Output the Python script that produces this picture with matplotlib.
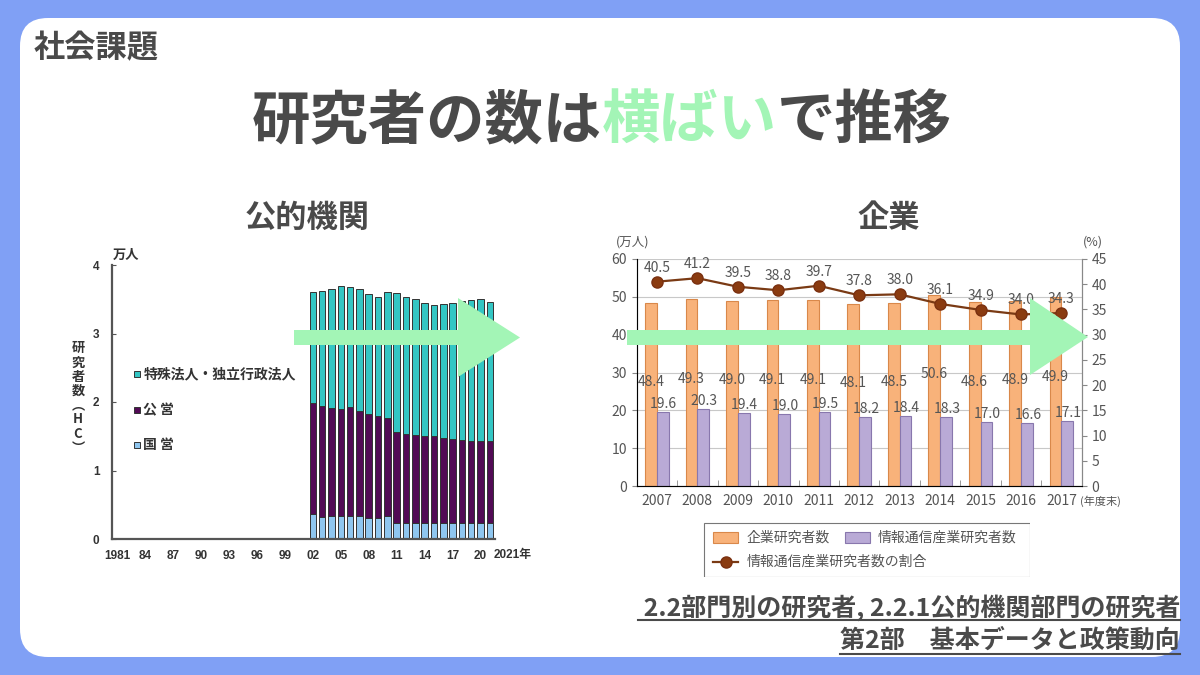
import matplotlib
matplotlib.use("Agg")
import matplotlib.pyplot as plt
from matplotlib.patches import FancyBboxPatch, Polygon, Rectangle
import numpy as np

plt.rcParams["font.family"] = ["Noto Sans CJK JP", "DejaVu Sans"]

# 公的機関 (万人)
years_pub = list(range(2002, 2022))
kokuei = [0.36, 0.32, 0.33, 0.33, 0.33, 0.33, 0.30, 0.30, 0.34, 0.24,
          0.24, 0.24, 0.24, 0.24, 0.24, 0.24, 0.24, 0.24, 0.24, 0.24]
koei = [1.63, 1.62, 1.58, 1.57, 1.59, 1.54, 1.52, 1.49, 1.43, 1.32,
        1.30, 1.28, 1.26, 1.26, 1.24, 1.22, 1.21, 1.19, 1.19, 1.19]
tokushu = [1.62, 1.68, 1.74, 1.79, 1.76, 1.78, 1.76, 1.74, 1.84, 2.03,
           2.00, 1.98, 1.94, 1.92, 1.95, 1.98, 2.02, 2.06, 2.07, 2.03]
pub_ticks = [1981, 1984, 1987, 1990, 1993, 1996, 1999, 2002, 2005, 2008,
             2011, 2014, 2017, 2020]
pub_ticklabels = ["1981", "84", "87", "90", "93", "96", "99", "02", "05",
                  "08", "11", "14", "17", "20"]
pub_legend = ["特殊法人・独立行政法人", "公 営", "国 営"]

# 企業
years_corp = ["2007", "2008", "2009", "2010", "2011", "2012", "2013",
              "2014", "2015", "2016", "2017"]
corp = [48.4, 49.3, 49.0, 49.1, 49.1, 48.1, 48.5, 50.6, 48.6, 48.9, 49.9]
ict = [19.6, 20.3, 19.4, 19.0, 19.5, 18.2, 18.4, 18.3, 17.0, 16.6, 17.1]
ratio = [40.5, 41.2, 39.5, 38.8, 39.7, 37.8, 38.0, 36.1, 34.9, 34.0, 34.3]

GRAY = "#4a4a4a"
GREEN = "#a3f5b6"
BLUE = "#80a0f5"
ARIAL = ["Liberation Sans", "Noto Sans CJK JP"]

W, H = 1200, 675
fig = plt.figure(figsize=(12, 6.75), dpi=100)
fig.patch.set_facecolor(BLUE)


def ax_px(x0, y0, x1, y1, **kw):
    return fig.add_axes([x0 / W, 1 - y1 / H, (x1 - x0) / W, (y1 - y0) / H], **kw)


# slide background
bg = ax_px(0, 0, W, H, zorder=0)
bg.set_xlim(0, W)
bg.set_ylim(H, 0)
bg.axis("off")
bg.add_patch(FancyBboxPatch((20, 18), 1160, 639,
                            boxstyle="round,pad=0,rounding_size=28",
                            fc="white", ec="none"))
r = fig.canvas.get_renderer()

bg.text(34, 48, "社会課題", fontsize=22.5, weight="bold", color=GRAY, va="center")

x = 252
for s, c in [("研究者の数は", GRAY), ("横ばい", GREEN), ("で推移", GRAY)]:
    t = bg.text(x, 121, s, fontsize=42, weight="bold", color=c,
                va="center", ha="left")
    x += t.get_window_extent(renderer=r).width

bg.text(307, 218, "公的機関", fontsize=22.5, weight="bold", color=GRAY,
        ha="center", va="center")
bg.text(889, 218, "企業", fontsize=22.5, weight="bold", color=GRAY,
        ha="center", va="center")

for s, yy, uy in [(" 2.2部門別の研究者, 2.2.1公的機関部門の研究者", 608, 620),
                  ("第2部　基本データと政策動向", 641, 654)]:
    t = bg.text(1180, yy, s, fontsize=18, weight="bold", color=GRAY,
                ha="right", va="center")
    bb = t.get_window_extent(renderer=r)
    bg.plot([bb.x0, bb.x1], [uy, uy], color=GRAY, lw=1.5)

# ---- 公的機関 chart
ax1 = ax_px(112, 265, 495, 539, zorder=1)
ec = "#333333"
ax1.bar(years_pub, kokuei, 0.7, color="#8fc6ef", edgecolor=ec, lw=0.7)
bot = np.array(kokuei)
ax1.bar(years_pub, koei, 0.7, bottom=bot, color="#520a55", edgecolor=ec, lw=0.7)
bot = bot + np.array(koei)
ax1.bar(years_pub, tokushu, 0.7, bottom=bot, color="#33c6c4", edgecolor=ec, lw=0.7)
ax1.set_xlim(1980.45, 2021.55)
ax1.set_ylim(0, 4)
ax1.set_xticks(pub_ticks, pub_ticklabels)
ax1.set_yticks([0, 1, 2, 3, 4])
ax1.tick_params(axis="x", length=0, pad=8, labelsize=8.5, labelcolor="#333")
ax1.tick_params(axis="y", direction="in", length=3, pad=9, labelsize=8.5,
                labelcolor="#333", color="#555")
for lab in ax1.get_xticklabels() + ax1.get_yticklabels():
    lab.set_fontweight("bold")
    lab.set_family(ARIAL)
for s in ["top", "right"]:
    ax1.spines[s].set_visible(False)
for s in ["left", "bottom"]:
    ax1.spines[s].set_color("#555")
    ax1.spines[s].set_linewidth(1.6)
for lab, col, yf in zip(pub_legend, ["#33c6c4", "#520a55", "#8fc6ef"],
                        [0.602, 0.471, 0.343]):
    ax1.plot([0.065], [yf], marker="s", ms=5, mfc=col, mec=ec, mew=0.7,
             transform=ax1.transAxes, clip_on=False)
    ax1.text(0.082, yf, lab, transform=ax1.transAxes, fontsize=10,
             weight="bold", color="#333", va="center")
bg.text(494, 555, "2021年", fontsize=8.5, weight="bold", color="#333",
        va="center", family=ARIAL)
bg.text(113, 255, "万人", fontsize=9.5, weight="bold", color="#333", va="center")
bg.text(78, 398, "研\n究\n者\n数\n︵\nH\nC\n︶", fontsize=9.5, weight="bold",
        color="#333", ha="center", va="center", linespacing=1.02)

# ---- 企業 chart
ax2 = ax_px(636.7, 259, 1081.7, 486, zorder=1)
xi = np.arange(len(years_corp))
bw = 0.29
ax2.bar(xi - bw / 2, corp, bw, color="#f8b27a", edgecolor="#d9884a", lw=0.8)
ax2.bar(xi + bw / 2, ict, bw, color="#b9aad6", edgecolor="#8877ad", lw=0.8)
ax2.set_axisbelow(True)
ax2.yaxis.grid(True, color="#c8c8c8", lw=0.8)
ax2.set_xlim(-0.5, len(years_corp) - 0.5)
ax2.set_ylim(0, 60)
ax2.set_yticks(range(0, 61, 10))
ax2.set_xticks(xi, years_corp)
ax2.set_xticks(xi[:-1] + 0.5, minor=True)
ax2.tick_params(axis="x", which="major", length=0, pad=6)
ax2.tick_params(axis="x", which="minor", direction="in", length=4, color="#888")
ax2.tick_params(axis="both", labelsize=10, labelcolor="#555", color="#888")
ax2.spines["top"].set_visible(False)
for s in ["left", "right", "bottom"]:
    ax2.spines[s].set_color("#888")

ax2r = ax2.twinx()
ax2r.plot(xi, ratio, color="#7a3a14", lw=1.6, marker="o", ms=8,
          mfc="#8a3b10", mec="#7a3010")
ax2r.set_ylim(0, 45)
ax2r.set_yticks(range(0, 46, 5))
ax2r.tick_params(axis="y", labelsize=10, labelcolor="#555", color="#888")
ax2r.spines["top"].set_visible(False)
ax2r.spines["right"].set_color("#888")

for i in xi:
    ax2.text(i - bw / 2, corp[i] - 21, f"{corp[i]:.1f}", ha="center",
             va="center", fontsize=10, color="#555")
    ax2.annotate(f"{ict[i]:.1f}", (i + bw / 2, ict[i]), xytext=(1, 8),
                 textcoords="offset pixels", ha="center", va="center",
                 fontsize=10, color="#555")
    ax2r.annotate(f"{ratio[i]:.1f}", (i, ratio[i]), xytext=(0, 14),
                  textcoords="offset pixels", ha="center", va="center",
                  fontsize=10, color="#555")

bg.text(633, 242, "(万人)", fontsize=9, color="#555", ha="center", va="center")
bg.text(1093, 242, "(%)", fontsize=9, color="#555", ha="center", va="center")
bg.text(1080, 501, "(年度末)", fontsize=8, color="#555", va="center")

# legend box
lg = ax_px(703, 522, 1030, 577, zorder=2)
lg.set_xlim(0, 327)
lg.set_ylim(55, 0)
lg.axis("off")
lg.add_patch(Rectangle((0.5, 0.5), 326, 54, fc="white", ec="#777", lw=0.8))
lg.add_patch(Rectangle((10, 10), 25, 11, fc="#f8b27a", ec="#d9884a", lw=0.8))
lg.text(44, 15.5, "企業研究者数", fontsize=10, color="#555", va="center")
lg.add_patch(Rectangle((142, 10), 25, 11, fc="#b9aad6", ec="#8877ad", lw=0.8))
lg.text(175, 15.5, "情報通信産業研究者数", fontsize=10, color="#555", va="center")
lg.plot([10, 35], [40, 40], color="#7a3a14", lw=1.6)
lg.plot([22.5], [40], marker="o", ms=8, mfc="#8a3b10", mec="#7a3010")
lg.text(44, 40, "情報通信産業研究者数の割合", fontsize=10, color="#555", va="center")

# green arrows on top
ov = ax_px(0, 0, W, H, zorder=5)
ov.set_xlim(0, W)
ov.set_ylim(H, 0)
ov.axis("off")
ov.add_patch(Polygon([(294, 330), (458, 330), (458, 298), (520, 337.5),
                      (458, 377), (458, 345), (294, 345)], fc=GREEN, ec="none"))
ov.add_patch(Polygon([(627, 330), (1030, 330), (1030, 298), (1088, 337),
                      (1030, 375), (1030, 345), (627, 345)], fc=GREEN, ec="none"))

fig.savefig("out.png", dpi=100, facecolor=fig.get_facecolor())
